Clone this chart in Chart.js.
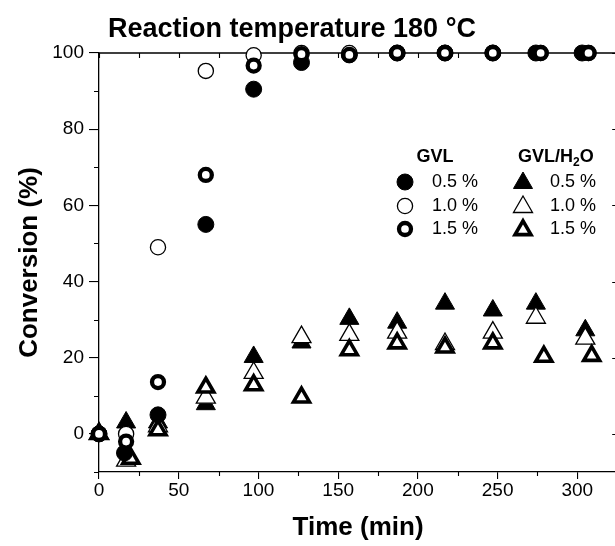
<!DOCTYPE html>
<html><head><meta charset="utf-8">
<style>
html,body{margin:0;padding:0;overflow:hidden;background:#fff;width:615px;height:546px}
#wrap{width:630px;height:546px;position:relative}
</style>
<script src="https://cdn.jsdelivr.net/npm/chart.js@4.4.0/dist/chart.umd.min.js"></script>
</head><body><div id="wrap"><canvas id="c" width="630" height="546"></canvas></div>
<script>
// ---- texts ----
const titleText = 'Reaction temperature 180 \u00B0C';
const xTitle = 'Time (min)';
const yTitle = 'Conversion (%)';
const groupHeaders = ['GVL', 'GVL/H2O'];
const loadings = ['0.5 %', '1.0 %', '1.5 %'];

// ---- data (time in min, conversion in %) ----
const tGvl05 = [0, 16, 37, 67, 97, 127, 157, 187, 217, 247, 274, 303];
const yGvl05 = [0, -5, 5, 55, 90.5, 97.5, 99.5, 100, 100, 100, 100, 100];
const tGvl10 = [0, 17, 37, 67, 97, 127, 157, 187, 217, 247, 277, 307];
const yGvl10 = [0, 0, 49, 95.3, 99.4, 100, 100, 100, 100, 100, 100, 100];
const tGvl15 = [0, 17, 37, 67, 97, 127, 157, 187, 217, 247, 277, 307];
const yGvl15 = [0, -2, 13.6, 68, 96.7, 99.7, 99.5, 100, 100, 100, 100, 100];
const tWat05 = [0, 17, 37, 67, 97, 127, 157, 187, 217, 247, 274, 305];
const yWat05 = [0, 3, 3, 7.8, 20.2, 24, 30.2, 29.2, 34.2, 32.4, 34.2, 27.2];
const tWat10 = [0, 17, 37, 67, 97, 127, 157, 187, 217, 247, 274, 305];
const yWat10 = [0, -7, 2, 9.5, 16, 25.4, 26, 26.6, 23.6, 26.6, 30.5, 25];
const tWat15 = [0, 20, 37, 67, 97, 127, 157, 187, 217, 247, 279, 309];
const yWat15 = [0, -6.5, 1, 12.2, 12.8, 9.6, 22, 23.8, 22.7, 23.8, 20.3, 20.5];

// ---- marker styles ----
const styles = {
  c05: {shape: 'circle', r: 8, fill: '#000', bw: 1},
  c10: {shape: 'circle', r: 7.6, fill: '#fff', bw: 1.3},
  c15: {shape: 'circle', r: 6, fill: '#fff', bw: 4.3},
  t05: {shape: 'triangle', r: 11, fill: '#000', bw: 1},
  t10: {shape: 'triangle', r: 11, fill: '#fff', bw: 1.3},
  t15: {shape: 'triangle', r: 9.2, fill: '#fff', bw: 3.6}
};

function pts(t, y) { return t.map((v, i) => ({x: v, y: y[i]})); }
function ds(label, t, y, st, order) {
  return {
    label, data: pts(t, y), order, clip: false, showLine: false,
    pointStyle: st.shape, pointRadius: st.r, pointHoverRadius: st.r,
    pointBackgroundColor: st.fill, pointBorderColor: '#000', pointBorderWidth: st.bw
  };
}

const FONT = "'Liberation Sans', Arial, Helvetica, sans-serif";
Chart.defaults.font.family = FONT;
Chart.defaults.color = '#000';

function markerPath(ctx, st, x, y) {
  ctx.beginPath();
  if (st.shape === 'circle') {
    ctx.arc(x, y, st.r, 0, Math.PI * 2);
  } else {
    let a = 0;
    ctx.moveTo(x + Math.sin(a) * st.r, y - Math.cos(a) * st.r);
    a += 2 * Math.PI / 3;
    ctx.lineTo(x + Math.sin(a) * st.r, y - Math.cos(a) * st.r);
    a += 2 * Math.PI / 3;
    ctx.lineTo(x + Math.sin(a) * st.r, y - Math.cos(a) * st.r);
    ctx.closePath();
  }
}
function drawMarker(ctx, st, x, y) {
  ctx.save();
  markerPath(ctx, st, x, y);
  ctx.fillStyle = st.fill; ctx.fill();
  ctx.lineWidth = st.bw; ctx.strokeStyle = '#000'; ctx.lineJoin = 'miter'; ctx.stroke();
  ctx.restore();
}

const framePlugin = {
  id: 'frame',
  beforeDatasetsDraw(chart) {
    const {ctx, chartArea: a, scales: {x, y}} = chart;
    ctx.save();
    ctx.strokeStyle = '#000';
    ctx.lineWidth = 1.3;
    ctx.beginPath();
    ctx.moveTo(a.left, a.top); ctx.lineTo(a.right, a.top); ctx.lineTo(a.right, a.bottom);
    ctx.stroke();
    ctx.lineWidth = 1.1;
    ctx.beginPath();
    for (let v = 0; v <= x.max; v += 25) {
      const px = Math.round(x.getPixelForValue(v)) + 0.5;
      ctx.moveTo(px, a.top); ctx.lineTo(px, a.top + 5);
      if (v % 50 !== 0) { ctx.moveTo(px, a.bottom); ctx.lineTo(px, a.bottom + 4); }
    }
    for (let v = -10; v <= 100; v += 10) {
      const py = Math.round(y.getPixelForValue(v)) + 0.5;
      if (v % 20 !== 0) { ctx.moveTo(a.left, py); ctx.lineTo(a.left - 5, py); }
      else { ctx.moveTo(a.right, py); ctx.lineTo(a.right - 5, py); }
    }
    ctx.stroke();
    ctx.restore();
  },
  afterDraw(chart) {
    const {ctx} = chart;
    ctx.save();
    ctx.fillStyle = '#000';
    ctx.font = 'bold 27px ' + FONT;
    ctx.textAlign = 'left'; ctx.textBaseline = 'alphabetic';
    ctx.fillText(titleText, 108, 37);
    ctx.font = 'bold 18px ' + FONT;
    ctx.textBaseline = 'middle';
    ctx.textAlign = 'center';
    ctx.fillText(groupHeaders[0], 435, 157);
    ctx.textAlign = 'left';
    const hx = 518;
    const parts = groupHeaders[1].split('2');
    ctx.fillText(parts[0], hx, 157);
    let w = ctx.measureText(parts[0]).width;
    ctx.font = 'bold 12px ' + FONT;
    ctx.fillText('2', hx + w, 163);
    w += ctx.measureText('2').width;
    ctx.font = 'bold 18px ' + FONT;
    ctx.fillText(parts[1], hx + w, 157);
    const rowsY = [182, 206, 229];
    const leftSt = [styles.c05, styles.c10, styles.c15];
    const rightSt = [styles.t05, styles.t10, styles.t15];
    ctx.font = '18px ' + FONT;
    for (let i = 0; i < 3; i++) {
      drawMarker(ctx, leftSt[i], 405, rowsY[i]);
      drawMarker(ctx, rightSt[i], 523, rowsY[i] + 1);
      ctx.fillStyle = '#000';
      ctx.textBaseline = 'middle';
      ctx.fillText(loadings[i], 432, rowsY[i]);
      ctx.fillText(loadings[i], 550, rowsY[i]);
    }
    ctx.restore();
  }
};

new Chart(document.getElementById('c'), {
  type: 'scatter',
  data: {
    datasets: [
      ds('GVL 1.5 %', tGvl15, yGvl15, styles.c15, 0),
      ds('GVL 1.0 %', tGvl10, yGvl10, styles.c10, 1),
      ds('GVL 0.5 %', tGvl05, yGvl05, styles.c05, 2),
      ds('GVL/H2O 1.5 %', tWat15, yWat15, styles.t15, 3),
      ds('GVL/H2O 1.0 %', tWat10, yWat10, styles.t10, 4),
      ds('GVL/H2O 0.5 %', tWat05, yWat05, styles.t05, 5)
    ]
  },
  options: {
    responsive: false,
    animation: false,
    layout: {padding: {top: 53, right: 12, left: 0, bottom: 0}},
    plugins: {legend: {display: false}, tooltip: {enabled: false}, title: {display: false}},
    scales: {
      x: {
        type: 'linear', min: 0, max: 325,
        afterFit(s) { s.height = 74; },
        border: {display: true, color: '#000', width: 1.3},
        grid: {drawOnChartArea: false, drawTicks: true, tickLength: 7, lineWidth: 1.1,
               color: c => (c.tick && c.tick.value % 50 === 0) ? '#000' : 'rgba(0,0,0,0)'},
        ticks: {stepSize: 25, padding: 0, maxRotation: 0, autoSkip: false,
                font: {size: 19}, color: '#000',
                callback: v => (v % 50 === 0 ? String(v) : '')},
        title: {display: true, text: xTitle, font: {size: 26, weight: 'bold'}, color: '#000',
                padding: {top: 0, bottom: 3}}
      },
      y: {
        type: 'linear', min: -10, max: 100,
        afterFit(s) { s.width = 99; },
        border: {display: true, color: '#000', width: 1.3},
        grid: {drawOnChartArea: false, drawTicks: true, tickLength: 10, lineWidth: 1.1,
               color: c => (c.tick && c.tick.value % 20 === 0) ? '#000' : 'rgba(0,0,0,0)'},
        ticks: {stepSize: 10, padding: 5, autoSkip: false, font: {size: 19}, color: '#000',
                callback: v => (v % 20 === 0 ? String(v) : '')},
        title: {display: true, text: yTitle, font: {size: 26, weight: 'bold'}, color: '#000',
                padding: {top: 14, bottom: 0}}
      }
    }
  },
  plugins: [framePlugin]
});
</script>
</body></html>
